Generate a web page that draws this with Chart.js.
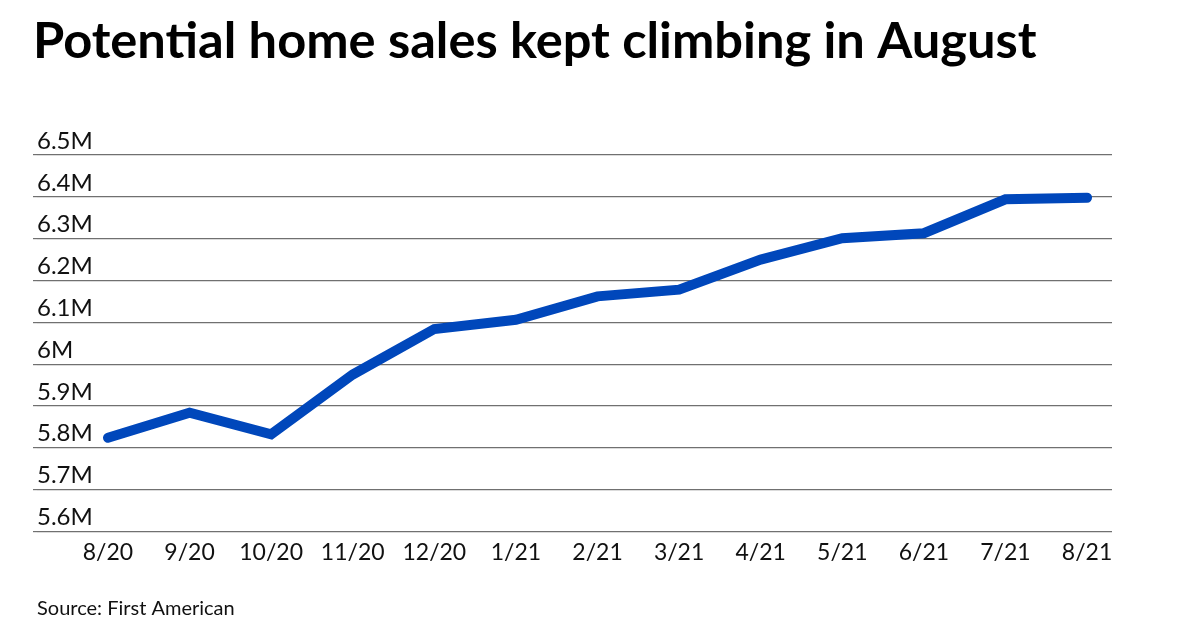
<!DOCTYPE html>
<html>
<head>
<meta charset="utf-8">
<title>Potential home sales kept climbing in August</title>
<script src="https://cdn.jsdelivr.net/npm/chart.js@4.4.1/dist/chart.umd.min.js"></script>
<style>
    html, body { margin: 0; padding: 0; background: #fff; }
    #wrap { width: 1200px; height: 630px; position: relative; }
</style>
</head>
<body>
<div id="wrap"><canvas id="salesChart"></canvas></div>
<script>
// Données (millions de ventes potentielles)
const months = ['8/20', '9/20', '10/20', '11/20', '12/20', '1/21', '2/21',
                '3/21', '4/21', '5/21', '6/21', '7/21', '8/21'];
const potentialSales = [5.824, 5.884, 5.832, 5.975, 6.084, 6.106, 6.162,
                        6.178, 6.25, 6.301, 6.313, 6.394, 6.398];
const yTicks = [5.6, 5.7, 5.8, 5.9, 6.0, 6.1, 6.2, 6.3, 6.4, 6.5];

const titleText = 'Potential home sales kept climbing in August';
const sourceText = 'Source: First American';

Chart.defaults.font.family = 'Lato, "Open Sans", sans-serif';
Chart.defaults.color = '#111';

const points = potentialSales.map((v, i) => ({ x: i, y: v }));

new Chart(document.getElementById('salesChart'), {
    type: 'line',
    data: {
        datasets: [{
            data: points,
            borderColor: '#0047bb',
            borderWidth: 10,
            borderCapStyle: 'round',
            borderJoinStyle: 'miter',
            pointRadius: 0,
            tension: 0,
            fill: false
        }]
    },
    options: {
        responsive: true,
        maintainAspectRatio: false,
        animation: false,
        layout: { padding: { left: 33, right: 88, top: 0, bottom: 0 } },
        plugins: {
            legend: { display: false },
            tooltip: { enabled: false },
            title: {
                display: true,
                text: titleText,
                align: 'start',
                color: '#000',
                font: { size: 50.6, weight: 'bold' },
                padding: { top: 11, bottom: 83.3 }
            },
            subtitle: {
                display: true,
                text: sourceText,
                position: 'bottom',
                align: 'start',
                fullSize: false,
                color: '#111',
                font: { size: 20 },
                padding: { top: 24, bottom: 9 }
            }
        },
        scales: {
            x: {
                type: 'linear',
                min: -0.87,
                max: 12.306,
                afterBuildTicks: scale => {
                    scale.ticks = months.map((_, i) => ({ value: i }));
                },
                grid: { display: false, drawTicks: false },
                border: { display: false },
                ticks: {
                    font: { size: 23 },
                    padding: 7,
                    maxRotation: 0,
                    autoSkip: false,
                    callback: v => months[v]
                }
            },
            y: {
                min: 5.6,
                max: 6.5,
                afterBuildTicks: scale => {
                    scale.ticks = yTicks.map(v => ({ value: v }));
                },
                grid: { color: '#707070', lineWidth: 1.2, drawTicks: true, tickLength: 4 },
                border: { display: false },
                ticks: {
                    mirror: true,
                    padding: 0,
                    labelOffset: -14,
                    font: { size: 24 },
                    callback: v => (Math.round(v * 10) / 10) + 'M'
                }
            }
        }
    }
});
</script>
</body>
</html>
